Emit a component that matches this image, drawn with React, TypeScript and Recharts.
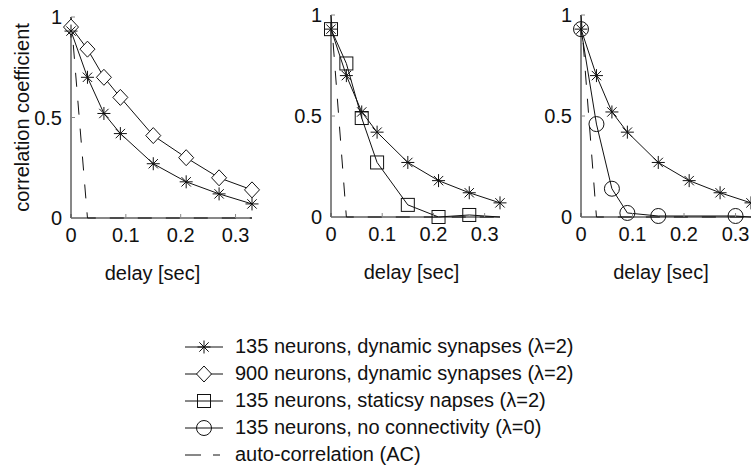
import React from "react";
import { LineChart, Line, XAxis, YAxis } from "recharts";

// delays (sec) at which the correlation was sampled
const delays = [0, 0.03, 0.06, 0.09, 0.15, 0.21, 0.27, 0.33];
const dyn135 = [0.93, 0.7, 0.52, 0.42, 0.27, 0.18, 0.12, 0.07];
const dyn900 = [0.95, 0.84, 0.7, 0.6, 0.41, 0.3, 0.2, 0.14];
const static135 = [0.93, 0.76, 0.49, 0.27, 0.06, 0.0, 0.01, 0.0];
const noConnDelays = [0, 0.03, 0.06, 0.09, 0.15, 0.3, 0.33];
const noConn135 = [0.93, 0.46, 0.14, 0.02, 0.005, 0.005, 0.0];
const acDelays = [0, 0.03, 0.33];
const acValues = [1.0, 0.0, 0.0];

const xTicks = [0, 0.1, 0.2, 0.3];
const yTicks = [0, 0.5, 1];

const legendLabels = [
  "135 neurons, dynamic synapses (\u03bb=2)",
  "900 neurons, dynamic synapses (\u03bb=2)",
  "135 neurons, staticsy napses (\u03bb=2)",
  "135 neurons, no connectivity (\u03bb=0)",
  "auto-correlation (AC)",
];

const FONT = "'Liberation Sans', Arial, Helvetica, sans-serif";
const INK = "#111";

const toPoints = (xs: number[], ys: number[]) =>
  xs.map((x, i) => ({ x, y: ys[i] }));

type Shape = "star" | "diamond" | "square" | "circle";

const Marker = ({ shape, cx, cy }: { shape: Shape; cx: number; cy: number }) => {
  const p = { fill: "none", stroke: INK, strokeWidth: 1 };
  if (shape === "star") {
    const r = 6.5;
    const d = r * 0.72;
    return (
      <g {...p}>
        <line x1={cx - r} y1={cy} x2={cx + r} y2={cy} />
        <line x1={cx} y1={cy - r} x2={cx} y2={cy + r} />
        <line x1={cx - d} y1={cy - d} x2={cx + d} y2={cy + d} />
        <line x1={cx - d} y1={cy + d} x2={cx + d} y2={cy - d} />
      </g>
    );
  }
  if (shape === "diamond") {
    return (
      <polygon
        {...p}
        fill="#fff"
        points={`${cx},${cy - 8} ${cx + 7.5},${cy} ${cx},${cy + 8} ${cx - 7.5},${cy}`}
      />
    );
  }
  if (shape === "square") {
    return <rect {...p} x={cx - 6.5} y={cy - 6.5} width={13} height={13} />;
  }
  return <circle {...p} cx={cx} cy={cy} r={7.5} />;
};

// dot renderer; `last` hides markers past a given index
const dotFor = (shape: Shape, last = 99) => (props: any) => {
  const { cx, cy, index } = props;
  if (index > last || cx == null || cy == null) return <g key={`d${index}`} />;
  return (
    <g key={`d${index}`}>
      <Marker shape={shape} cx={cx} cy={cy} />
    </g>
  );
};

const fmt = (v: number) => (v === 0 ? "0" : String(v));

const tickStyle = { fontSize: 20, fill: INK, fontFamily: FONT };

type PanelProps = {
  left: number;
  top: number;
  width: number;
  height: number;
  marginTop: number;
  marginRight: number;
  showYLabel?: boolean;
  labelDx: number;
  children: React.ReactNode;
};

const Panel = ({
  left,
  top,
  width,
  height,
  marginTop,
  marginRight,
  showYLabel,
  labelDx,
  children,
}: PanelProps) => (
  <div style={{ position: "absolute", left, top }}>
    <LineChart
      width={width}
      height={height}
      margin={{ top: marginTop, right: marginRight, left: 0, bottom: 0 }}
    >
      <XAxis
        dataKey="x"
        type="number"
        domain={[0, 0.33]}
        ticks={xTicks}
        tickFormatter={fmt}
        tick={tickStyle}
        tickSize={-4}
        tickMargin={14}
        height={70}
        stroke={INK}
        tickLine={{ stroke: "#888" }}
        label={{
          value: "delay [sec]",
          position: "insideBottom",
          offset: 8,
          dx: labelDx,
          style: { fontSize: 20, fill: INK, fontFamily: FONT },
        }}
      />
      <YAxis
        dataKey="y"
        type="number"
        domain={[0, 1]}
        ticks={yTicks}
        tickFormatter={fmt}
        tick={tickStyle}
        tickSize={-4}
        tickMargin={13}
        width={71}
        stroke={INK}
        tickLine={{ stroke: "#888" }}
        label={
          showYLabel
            ? {
                value: "correlation coefficient",
                angle: -90,
                position: "insideLeft",
                offset: 22,
                style: { textAnchor: "middle", fontSize: 20, fill: INK, fontFamily: FONT },
              }
            : undefined
        }
      />
      {children}
    </LineChart>
  </div>
);

const acLine = (
  <Line
    data={toPoints(acDelays, acValues)}
    dataKey="y"
    stroke={INK}
    strokeWidth={1}
    strokeDasharray="14 14"
    dot={false}
    activeDot={false}
    isAnimationActive={false}
  />
);

const seriesLine = (xs: number[], ys: number[], shape: Shape, last?: number) => (
  <Line
    data={toPoints(xs, ys)}
    dataKey="y"
    stroke={INK}
    strokeWidth={1}
    dot={dotFor(shape, last)}
    activeDot={false}
    isAnimationActive={false}
  />
);

const LegendIcon = ({ shape, dashed }: { shape?: Shape; dashed?: boolean }) => (
  <svg width={50} height={24} style={{ display: "block" }}>
    {dashed ? (
      <g stroke={INK} strokeWidth={1}>
        <line x1={5} y1={12} x2={21} y2={12} />
        <line x1={33} y1={12} x2={40} y2={12} />
      </g>
    ) : (
      <line x1={5} y1={12} x2={43} y2={12} stroke={INK} strokeWidth={1} />
    )}
    {shape && <Marker shape={shape} cx={24} cy={12} />}
  </svg>
);

const legendShapes: (Shape | undefined)[] = ["star", "diamond", "square", "circle", undefined];

export default function App() {
  return (
    <div
      style={{
        position: "absolute",
        left: 0,
        top: 0,
        width: 751,
        height: 468,
        background: "#fff",
        overflow: "hidden",
        fontFamily: FONT,
      }}
    >
      <Panel left={0} top={0} width={262} height={288} marginTop={17} marginRight={10} showYLabel labelDx={-9}>
        {acLine}
        {seriesLine(delays, dyn900, "diamond")}
        {seriesLine(delays, dyn135, "star")}
      </Panel>
      <Panel left={260} top={0} width={250} height={287} marginTop={15} marginRight={10} labelDx={-4}>
        {acLine}
        {seriesLine(delays, static135, "square", 6)}
        {seriesLine(delays, dyn135, "star")}
      </Panel>
      <Panel left={510} top={0} width={241} height={287} marginTop={15} marginRight={0} labelDx={-5}>
        {acLine}
        {seriesLine(noConnDelays, noConn135, "circle", 5)}
        {seriesLine(delays, dyn135, "star")}
      </Panel>

      <div style={{ position: "absolute", left: 180, top: 333 }}>
        {legendLabels.map((label, i) => (
          <div
            key={label}
            style={{ display: "flex", alignItems: "center", height: 27, whiteSpace: "nowrap" }}
          >
            <LegendIcon shape={legendShapes[i]} dashed={i === 4} />
            <span style={{ fontSize: 20, color: INK, marginLeft: 5 }}>{label}</span>
          </div>
        ))}
      </div>
    </div>
  );
}
